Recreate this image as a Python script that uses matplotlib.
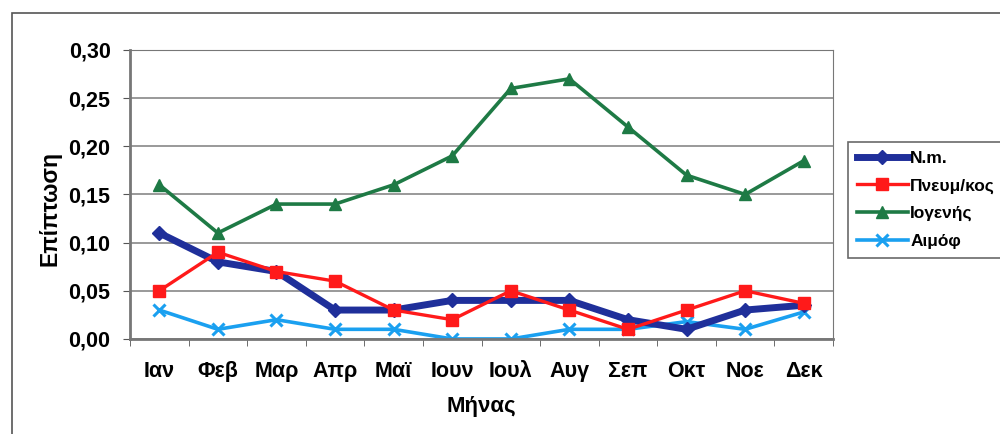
import numpy as np
import matplotlib.pyplot as plt
from matplotlib.patches import Rectangle

months = ['Ιαν', 'Φεβ', 'Μαρ', 'Απρ', 'Μαϊ', 'Ιουν', 'Ιουλ', 'Αυγ', 'Σεπ', 'Οκτ', 'Νοε', 'Δεκ']
nm = [0.11, 0.08, 0.07, 0.03, 0.03, 0.04, 0.04, 0.04, 0.02, 0.01, 0.03, 0.035]
pneum = [0.05, 0.09, 0.07, 0.06, 0.03, 0.02, 0.05, 0.03, 0.01, 0.03, 0.05, 0.037]
iogenis = [0.16, 0.11, 0.14, 0.14, 0.16, 0.19, 0.26, 0.27, 0.22, 0.17, 0.15, 0.185]
aimof = [0.03, 0.01, 0.02, 0.01, 0.01, 0.00, 0.00, 0.01, 0.01, 0.018, 0.01, 0.028]

plt.rcParams['font.family'] = ['Liberation Sans', 'DejaVu Sans']
plt.rcParams['font.weight'] = 'bold'

fig = plt.figure(figsize=(10, 4.34), dpi=100)
ax = fig.add_axes([0.13, 0.219, 0.703, 0.666])

# outer chart frame
fig.patches.append(Rectangle((0.012, -0.1), 1.1, 1.07, transform=fig.transFigure,
                             fill=False, edgecolor='#555555', linewidth=1.2))

x = np.arange(len(months))
ax.plot(x, nm, color='#1f2f9a', linewidth=5, marker='D', markersize=7, label='N.m.', zorder=3)
ax.plot(x, pneum, color='#ff1a1a', linewidth=2.4, marker='s', markersize=8, label='Πνευμ/κος', zorder=4)
ax.plot(x, iogenis, color='#1e7a45', linewidth=2.6, marker='^', markersize=9, label='Ιογενής', zorder=3)
ax.plot(x, aimof, color='#1aa0f0', linewidth=2.6, marker='x', markersize=8, markeredgewidth=2.2,
        label='Αιμόφ', zorder=2)

ax.set_xlim(-0.5, 11.5)
ax.set_ylim(0, 0.30)
yt = np.arange(0, 0.301, 0.05)
ax.set_yticks(yt)
ax.set_yticklabels([('%.2f' % v).replace('.', ',') for v in yt], fontsize=15.5, fontweight='bold')
ax.set_xticks(x)
ax.set_xticklabels(months, fontsize=15.5, fontweight='bold')
ax.set_xticks(np.arange(-0.5, 12, 1), minor=True)
ax.tick_params(axis='x', which='major', length=0, pad=16)
ax.tick_params(axis='x', which='minor', length=5, direction='out', color='#555555')
ax.tick_params(axis='y', length=5, direction='out', color='#555555', pad=9)

ax.grid(axis='y', color='#888888', linewidth=1.2)
ax.set_axisbelow(True)
for s in ax.spines.values():
    s.set_color('#777777')
ax.spines['left'].set_linewidth(2)
ax.spines['bottom'].set_linewidth(2)

ax.set_ylabel('Επίπτωση', fontsize=16.5, fontweight='bold')
ax.yaxis.set_label_coords(-0.098, 0.45)
ax.set_xlabel('Μήνας', fontsize=16, fontweight='bold', labelpad=10)

leg = ax.legend(loc='upper left', bbox_to_anchor=(1.021, 0.683), frameon=True, fancybox=False,
                fontsize=12.5, handlelength=2.9, handletextpad=0.15, borderpad=0.55,
                labelspacing=0.7, borderaxespad=0)
leg.get_frame().set_edgecolor('#444444')
leg.get_frame().set_linewidth(1.2)

fig.savefig('out.png', dpi=100)
